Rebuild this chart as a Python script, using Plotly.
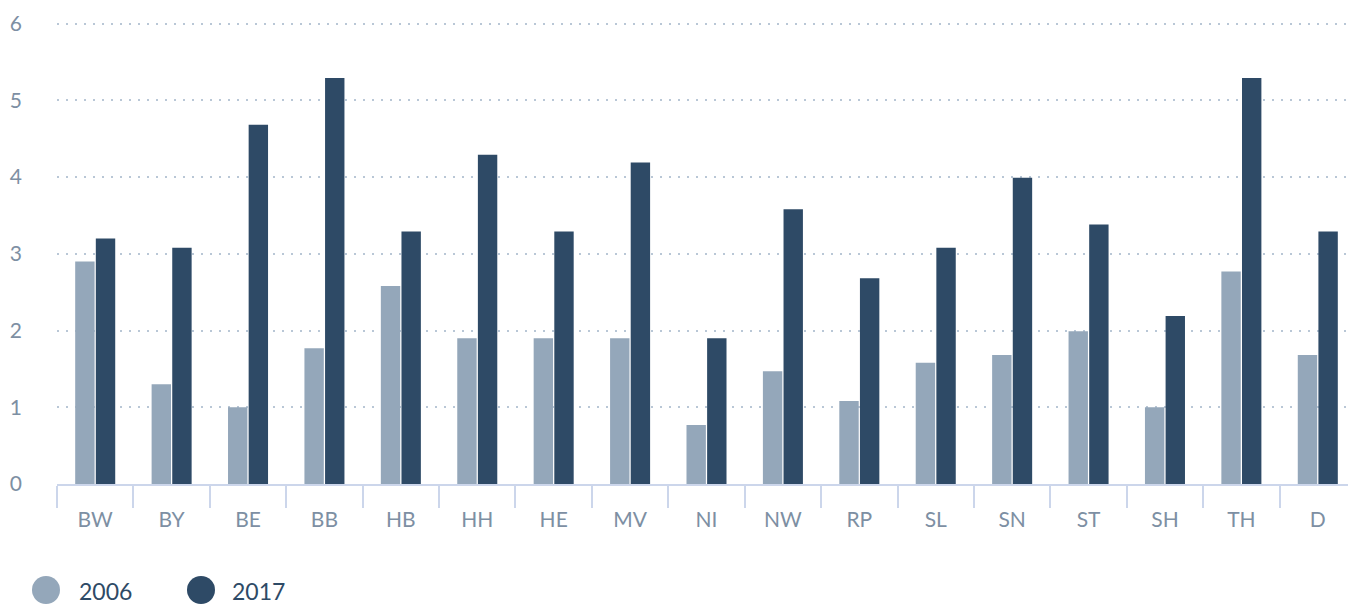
import plotly.graph_objects as go

categories = ["BW", "BY", "BE", "BB", "HB", "HH", "HE", "MV", "NI", "NW",
              "RP", "SL", "SN", "ST", "SH", "TH", "D"]
values_2006 = [2.9, 1.3, 1.0, 1.77, 2.58, 1.9, 1.9, 1.9, 0.77, 1.47,
               1.08, 1.58, 1.68, 1.99, 1.0, 2.77, 1.68]
values_2017 = [3.2, 3.08, 4.68, 5.29, 3.29, 4.29, 3.29, 4.19, 1.9, 3.58,
               2.68, 3.08, 3.99, 3.38, 2.19, 5.29, 3.29]
series_names = ["2006", "2017"]
y_ticks = [0, 1, 2, 3, 4, 5, 6]

C06 = "#94a7ba"
C17 = "#2e4a66"
TICK = "#7d8fa3"
FONT = "Lato"

# page body has an 8px default margin
OFF = 8
W, H = 1356 - OFF, 605 - OFF
ML, MR, MT, MB = 57 - OFF, 0, 22 - OFF, 121

fig = go.Figure()
fig.add_trace(go.Bar(x=categories, y=values_2006, name=series_names[0],
                     marker=dict(color=C06, line=dict(width=0)), showlegend=False))
fig.add_trace(go.Bar(x=categories, y=values_2017, name=series_names[1],
                     marker=dict(color=C17, line=dict(width=0)), showlegend=False))

fig.update_layout(
    width=W, height=H,
    margin=dict(l=ML, r=MR, t=MT, b=MB),
    paper_bgcolor="white", plot_bgcolor="white",
    barmode="group", bargap=0.46, bargroupgap=0.06,
    font=dict(family=FONT, color=TICK, size=21),
    xaxis=dict(
        type="category", tickson="boundaries", ticks="outside", ticklen=22,
        tickwidth=2, tickcolor="#ccd6eb", showline=True, linecolor="#ccd6eb",
        linewidth=2, showgrid=False, tickfont=dict(size=21, color=TICK),
        ticklabelstandoff=16, fixedrange=True,
    ),
    yaxis=dict(
        range=[0, 6.02], tickvals=y_ticks, showgrid=True, gridcolor="#b9c7d6",
        griddash="2px,7px", gridwidth=2, zeroline=False, showline=False,
        tickfont=dict(size=21, color=TICK), ticklabelstandoff=34,
        fixedrange=True,
    ),
    showlegend=False,
)

def px_to_paper_x(px):
    return (px - OFF - ML) / (W - ML - MR)

def px_to_paper_y(py):
    return (H - MB - (py - OFF)) / (H - MT - MB)

legend_items = [(series_names[0], C06, 46, 77), (series_names[1], C17, 201, 230)]
cy = 590
r = 14
for name, col, cx, tx in legend_items:
    fig.add_shape(type="circle", xref="paper", yref="paper",
                  x0=px_to_paper_x(cx - r), x1=px_to_paper_x(cx + r),
                  y0=px_to_paper_y(cy + r), y1=px_to_paper_y(cy - r),
                  fillcolor=col, line=dict(width=0))
    fig.add_annotation(xref="paper", yref="paper", x=px_to_paper_x(tx),
                       y=px_to_paper_y(cy + 1), text=name, showarrow=False,
                       xanchor="left", yanchor="middle",
                       font=dict(family=FONT, size=23, color=C17))

fig.write_html("out.html", config={"displayModeBar": False})
